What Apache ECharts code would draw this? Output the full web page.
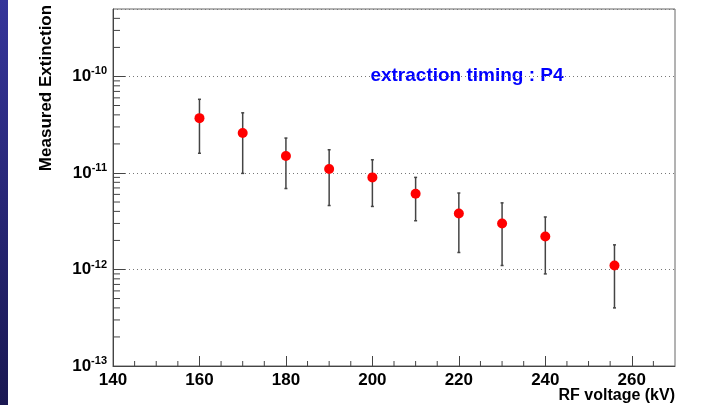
<!DOCTYPE html>
<html>
<head>
<meta charset="utf-8">
<script src="https://cdn.jsdelivr.net/npm/echarts@6/dist/echarts.min.js"></script>
<style>
  html, body { margin: 0; padding: 0; background: #fff; }
  #chart { width: 701px; height: 405px; }
</style>
</head>
<body>
<div id="chart"></div>
<script>
// RF voltage (kV) and measured extinction
const voltages = [160, 170, 180, 190, 200, 210, 220, 230, 240, 256];
const extinction = [3.7e-11, 2.6e-11, 1.5e-11, 1.1e-11, 9.0e-12, 6.1e-12, 3.8e-12, 3.0e-12, 2.2e-12, 1.1e-12];
const errHigh = [5.8e-11, 4.2e-11, 2.3e-11, 1.74e-11, 1.37e-11, 9.0e-12, 6.2e-12, 4.9e-12, 3.5e-12, 1.8e-12];
const errLow = [1.6e-11, 9.9e-12, 6.9e-12, 4.6e-12, 4.5e-12, 3.2e-12, 1.5e-12, 1.1e-12, 9.0e-13, 4.0e-13];

// minor tick positions
const xMinorTicks = [145, 150, 155, 165, 170, 175, 185, 190, 195, 205, 210, 215,
  225, 230, 235, 245, 250, 255, 265];
const yMinorTicks = [
  2e-13, 3e-13, 4e-13, 5e-13, 6e-13, 7e-13, 8e-13, 9e-13,
  2e-12, 3e-12, 4e-12, 5e-12, 6e-12, 7e-12, 8e-12, 9e-12,
  2e-11, 3e-11, 4e-11, 5e-11, 6e-11, 7e-11, 8e-11, 9e-11,
  2e-10, 3e-10, 4e-10
];

const FONT = "'Liberation Sans', Arial, Helvetica, sans-serif";

const chart = echarts.init(document.getElementById('chart'));

const tickData = []
  .concat(xMinorTicks.map(v => [v, 1e-13, 1]))
  .concat(yMinorTicks.map(v => [140, v, 0]));

const errData = voltages.map((v, i) => [v, errLow[i], errHigh[i]]);

const option = {
  animation: false,
  backgroundColor: '#fff',
  grid: {
    left: 113, top: 9, right: 26, bottom: 39,
    show: true, borderColor: '#666', borderWidth: 1, backgroundColor: '#fff'
  },
  xAxis: {
    type: 'value', min: 140, max: 270, interval: 20,
    axisLine: { lineStyle: { color: '#444', width: 1 } },
    axisTick: { inside: true, length: 10, lineStyle: { color: '#444' } },
    axisLabel: {
      margin: 6, color: '#000', fontFamily: FONT, fontWeight: 'bold', fontSize: 17,
      showMaxLabel: false
    },
    splitLine: { show: false }
  },
  yAxis: {
    type: 'log', logBase: 10, min: 1e-13, max: 5e-10,
    axisLine: { lineStyle: { color: '#444', width: 1 } },
    axisTick: { inside: true, length: 12, lineStyle: { color: '#444' } },
    axisLabel: {
      margin: 6, showMaxLabel: false,
      formatter: function (v) {
        const l = Math.log10(v);
        const e = Math.round(l);
        if (Math.abs(l - e) > 1e-6) return '';
        return '{b|10}{s|' + e + '}';
      },
      rich: {
        b: { fontFamily: FONT, fontWeight: 'bold', fontSize: 17, color: '#000' },
        s: { fontFamily: FONT, fontWeight: 'bold', fontSize: 11, color: '#000', padding: [0, 0, 10, 0] }
      }
    },
    splitLine: { show: true, lineStyle: { color: '#777', type: [1, 3], width: 1 } }
  },
  graphic: [
    {
      type: 'rect', left: 0, top: 0, shape: { width: 8, height: 405 },
      style: {
        fill: new echarts.graphic.LinearGradient(0, 0, 0, 1, [
          { offset: 0, color: '#35359a' },
          { offset: 1, color: '#1a1852' }
        ])
      }
    },
    {
      type: 'text', x: 46, y: 88, rotation: Math.PI / 2,
      style: {
        text: 'Measured Extinction', font: 'bold 17px ' + FONT, fill: '#000',
        align: 'center', verticalAlign: 'middle'
      }
    },
    {
      type: 'text', x: 675, y: 396,
      style: {
        text: 'RF voltage (kV)', font: 'bold 16px ' + FONT, fill: '#000',
        align: 'right', verticalAlign: 'middle'
      }
    },
    {
      type: 'text', x: 467, y: 76,
      style: {
        text: 'extraction timing : P4', font: 'bold 19px ' + FONT, fill: '#0000ff',
        align: 'center', verticalAlign: 'middle'
      }
    }
  ],
  series: [
    {
      name: 'minor ticks', type: 'custom', silent: true, clip: false, z: 3,
      data: tickData,
      renderItem: function (params, api) {
        const p = api.coord([api.value(0), api.value(1)]);
        const isX = api.value(2) === 1;
        return {
          type: 'line',
          shape: isX
            ? { x1: p[0], y1: p[1], x2: p[0], y2: p[1] - 5 }
            : { x1: p[0], y1: p[1], x2: p[0] + 7, y2: p[1] },
          style: { stroke: '#444', lineWidth: 1 }
        };
      }
    },
    {
      name: 'errors', type: 'custom', silent: true, z: 4,
      data: errData,
      renderItem: function (params, api) {
        const lo = api.coord([api.value(0), api.value(1)]);
        const hi = api.coord([api.value(0), api.value(2)]);
        const st = { stroke: '#444', lineWidth: 1.5 };
        return {
          type: 'group',
          children: [
            { type: 'line', shape: { x1: lo[0], y1: lo[1], x2: hi[0], y2: hi[1] }, style: st },
            { type: 'line', shape: { x1: lo[0] - 1.5, y1: lo[1], x2: lo[0] + 1.5, y2: lo[1] }, style: st },
            { type: 'line', shape: { x1: hi[0] - 1.5, y1: hi[1], x2: hi[0] + 1.5, y2: hi[1] }, style: st }
          ]
        };
      }
    },
    {
      name: 'extinction', type: 'scatter', z: 5,
      symbol: 'circle', symbolSize: 10,
      itemStyle: { color: '#ff0000', opacity: 1 },
      data: voltages.map((v, i) => [v, extinction[i]])
    }
  ]
};

option && chart.setOption(option);
</script>
</body>
</html>
